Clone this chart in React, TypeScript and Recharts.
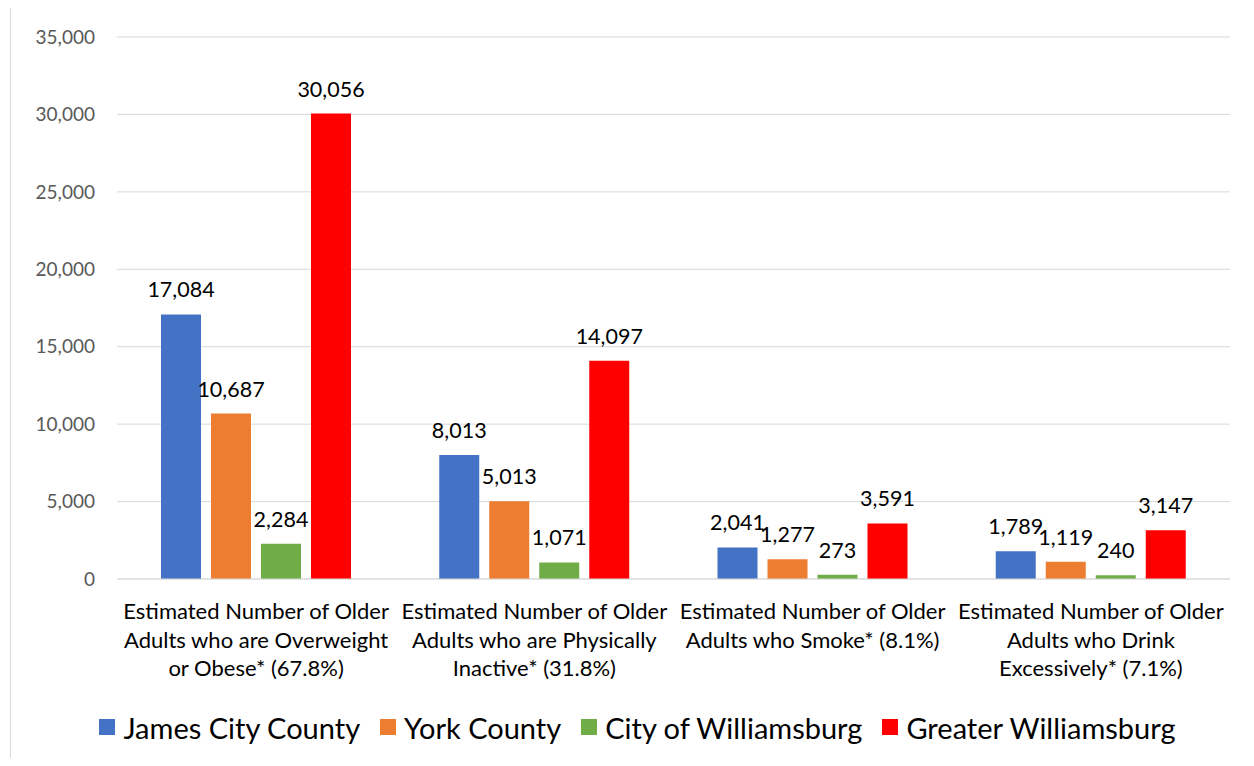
import React from 'react';
import {
  BarChart,
  Bar,
  XAxis,
  YAxis,
  CartesianGrid,
  Legend,
  LabelList,
} from 'recharts';

const categories = [
  ['Estimated Number of Older', 'Adults who are Overweight', 'or Obese* (67.8%)'],
  ['Estimated Number of Older', 'Adults who are Physically', 'Inactive* (31.8%)'],
  ['Estimated Number of Older', 'Adults who Smoke* (8.1%)'],
  ['Estimated Number of Older', 'Adults who Drink', 'Excessively* (7.1%)'],
];

const jamesCity = [17084, 8013, 2041, 1789];
const yorkCounty = [10687, 5013, 1277, 1119];
const williamsburg = [2284, 1071, 273, 240];
const greater = [30056, 14097, 3591, 3147];

const yTicks = [0, 5000, 10000, 15000, 20000, 25000, 30000, 35000];

const series = [
  { key: 'james', name: 'James City County', color: '#4472C4' },
  { key: 'york', name: 'York County', color: '#ED7D31' },
  { key: 'city', name: 'City of Williamsburg', color: '#70AD47' },
  { key: 'greater', name: 'Greater Williamsburg', color: '#FF0000' },
];

const data = categories.map((lines, i) => ({
  name: String(i),
  james: jamesCity[i],
  york: yorkCounty[i],
  city: williamsburg[i],
  greater: greater[i],
}));

const FONT = 'Lato, "Open Sans", sans-serif';
const fmt = (v: any) => Number(v).toLocaleString('en-US');

const CategoryTick = (props: any) => {
  const { x, y, payload } = props;
  const lines = categories[Number(payload.value)] || [];
  return (
    <text x={x} y={y} textAnchor="middle" fill="#000" fontSize={22} fontFamily={FONT}>
      {lines.map((l, i) => (
        <tspan key={i} x={x} dy={i === 0 ? 32 : 28.5}>
          {l}
        </tspan>
      ))}
    </text>
  );
};

const LegendContent = () => (
  <div
    style={{
      display: 'flex',
      justifyContent: 'center',
      alignItems: 'center',
      fontFamily: FONT,
      fontSize: 29,
      color: '#000',
      height: 60,
      paddingLeft: 28,
    }}
  >
    {series.map((s) => (
      <div key={s.key} style={{ display: 'flex', alignItems: 'center', margin: '0 10px' }}>
        <span style={{ width: 16, height: 16, background: s.color, marginRight: 8, display: 'inline-block' }} />
        <span>{s.name}</span>
      </div>
    ))}
  </div>
);

export default function App() {
  return (
    <div style={{ margin: -8, width: 1254, height: 766, position: 'relative', overflow: 'hidden', background: '#fff' }}>
      <BarChart
        width={1254}
        height={766}
        data={data}
        margin={{ top: 37, right: 24, left: 17, bottom: 9 }}
        barSize={40}
        barGap={10}
      >
        <CartesianGrid vertical={false} stroke="#d9d9d9" strokeWidth={1} />
        <XAxis
          dataKey="name"
          height={118}
          axisLine={{ stroke: '#d9d9d9' }}
          tickLine={false}
          interval={0}
          tick={<CategoryTick />}
        />
        <YAxis
          width={100}
          domain={[0, 35000]}
          ticks={yTicks}
          axisLine={false}
          tickLine={false}
          tickSize={0}
          tickMargin={22}
          tickFormatter={fmt}
          tick={{ fill: '#595959', fontSize: 19, fontFamily: FONT }}
        />
        <Legend verticalAlign="bottom" height={60} content={<LegendContent />} />
        {series.map((s) => (
          <Bar key={s.key} dataKey={s.key} name={s.name} fill={s.color} isAnimationActive={false}>
            <LabelList
              dataKey={s.key}
              position="top"
              offset={17}
              formatter={fmt}
              fill="#000"
              fontSize={21.5}
              fontFamily={FONT}
            />
          </Bar>
        ))}
      </BarChart>
      <div
        style={{
          position: 'absolute',
          left: 10,
          top: 7,
          width: 1300,
          height: 800,
          border: '1px solid #d9d9d9',
          pointerEvents: 'none',
        }}
      />
    </div>
  );
}
